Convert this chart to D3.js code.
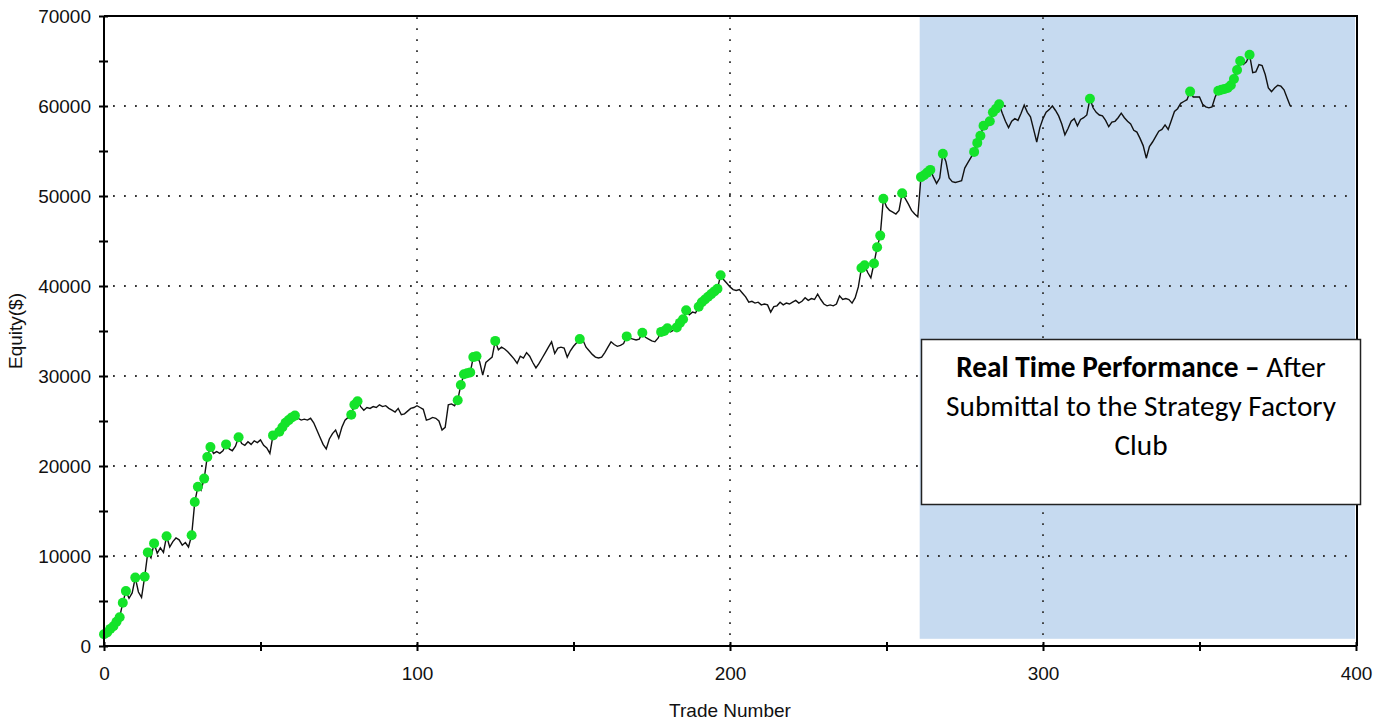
<!DOCTYPE html>
<meta charset="utf-8">
<style>
  body { margin: 0; background: #fff; }
  svg { display: block; }
</style>
<body>
<script src="https://cdn.jsdelivr.net/npm/d3@7"></script>
<script>

    // equity per trade, back-tested part (trades 0..260)
    var backtestEquity = [
        1300, 1500, 1900, 2200, 2700, 3200, 4800, 6100, 5300, 5900,
        7600, 6000, 5400, 7700, 10400, 9800, 11400, 10300, 10900, 10400,
        12200, 11000, 11600, 12000, 11800, 11200, 11500, 11000, 12300, 16000,
        17700, 17300, 18600, 21000, 22100, 21400, 21600, 21400, 21700, 22400,
        21900, 21700, 22200, 23200, 22500, 22300, 22700, 22400, 22800, 22600,
        22900, 22300, 22000, 21400, 23400, 23200, 23800, 24300, 24800, 25100,
        25400, 25600, 25300, 25100, 25200, 25100, 25300, 24800, 24000, 23200,
        22400, 21900, 23000, 23600, 24000, 23100, 24300, 25100, 25400, 25700,
        26800, 27200, 26600, 26200, 26500, 26400, 26600, 26500, 26800, 26600,
        26700, 26400, 26200, 26000, 26400, 25700, 25800, 26100, 26400, 26500,
        26700, 26500, 26300, 25100, 25200, 25400, 25300, 25000, 24000, 24300,
        26800, 26900, 26700, 27300, 29000, 30200, 30300, 30400, 32100, 32200,
        31600, 30100, 31500, 31800, 32100, 33900, 32900, 33200, 33000, 32700,
        32300, 31900, 31400, 32200, 32000, 32600, 32200, 31500, 30900, 31400,
        32000, 32600, 33200, 33800, 32500, 33100, 33200, 33100, 32100, 32800,
        33300, 33700, 34100, 34000, 33200, 32800, 32400, 32100, 32000, 32100,
        32600, 33200, 33800, 33500, 33300, 33400, 33600, 34400, 34200, 34100,
        34000, 34100, 34800, 34300, 34100, 33900, 33800, 34200, 34900, 35000,
        35300, 34900, 35100, 35400, 35900, 36300, 37300, 36800, 37100, 37000,
        37700, 38200, 38500, 38800, 39100, 39400, 39700, 41200, 40700, 40300,
        39900, 39600, 39500, 39600, 39200, 38800, 38200, 38300, 38100, 38200,
        37900, 38000, 37900, 37100, 37700, 37800, 38200, 37900, 38100, 38000,
        38200, 38400, 38100, 38300, 38700, 38400, 38600, 38500, 39100, 38500,
        38000, 37800, 37900, 37800, 38000, 38900, 38500, 38600, 38500, 38100,
        38700, 39900, 42000, 42300, 41500, 40900, 42500, 44300, 45600, 49700,
        48800, 48400, 48200, 48000, 48400, 50300, 49700, 49100, 48400, 48000,
        47700
    ];

    // equity per trade after submittal (trades 261..379)
    var realTimeEquity = [
        52100, 52300, 52600, 52900, 52100, 51400, 52000, 54700, 53800,
        52000, 51600, 51500, 51600, 51700, 53100, 53700, 54300, 54900, 55900,
        56700, 57800, 57500, 58300, 59300, 59700, 60200, 59200, 58300, 57600,
        58300, 58600, 58400, 59200, 60100, 59300, 58800, 57400, 56000, 57600,
        58600, 59300, 59600, 60000, 59500, 58900, 58000, 56800, 57500, 58300,
        58600, 57800, 58500, 58700, 59000, 60800, 59800, 59300, 59000, 58900,
        58400, 57700, 58200, 58300, 58700, 59200, 58700, 58300, 58000, 57300,
        57100, 56400, 55600, 54200, 55500, 56000, 56600, 57200, 57400, 57900,
        57400, 58400, 59400, 59700, 60300, 60500, 60700, 61600, 61000, 61000,
        61000, 60200, 59900, 59800, 59900, 61000, 61700, 61800, 61900, 62000,
        62300, 63000, 64000, 65000, 64600, 64900, 65700, 63700, 63800, 64600,
        64500, 63500, 62000, 61600, 62000, 62300, 62200, 61800, 60900, 60000
    ];

    var xTicks = [0, 50, 100, 150, 200, 250, 300, 350, 400];
    var yTicks = [0, 5000, 10000, 15000, 20000, 25000, 30000, 35000, 40000, 45000, 50000, 55000, 60000, 65000, 70000];
    var xGrid = [100, 200, 300];
    var yGrid = [10000, 20000, 30000, 40000, 50000, 60000];
    var realTimeSpan = [260.6, 399.7];   // shaded trades
    var noteBold = "Real Time Performance \u2013";
    var noteLines = ["After", "Submittal to the Strategy Factory", "Club"];

    var width = 1391,
        height = 723;

    var plotLeft = 104, plotRight = 1357, plotTop = 16, plotBottom = 646;

    var svg = d3.select("body").append("svg")
            .attr("width", width)
            .attr("height", height);

    var x = d3.scaleLinear().domain([0, 400]).range([plotLeft, plotRight - 1]);
    var y = d3.scaleLinear().domain([0, 70000]).range([plotBottom, plotTop]);

    var equity = backtestEquity.concat(realTimeEquity).map(function(v, i) {
        return {trade: i, value: v};
    });

    // new equity highs get a green dot
    var peak = -Infinity;
    var highs = equity.filter(function(d) {
        if (d.value > peak) { peak = d.value; return true; }
        return false;
    });

    // shaded real time area
    svg.append("rect")
        .attr("x", x(realTimeSpan[0]))
        .attr("y", plotTop)
        .attr("width", x(realTimeSpan[1]) - x(realTimeSpan[0]))
        .attr("height", y(800) - plotTop)
        .attr("fill", "#c6daf0");

    // dotted grid
    var grid = svg.append("g")
        .attr("stroke", "#333")
        .attr("stroke-width", 1.8)
        .attr("stroke-dasharray", "1.8,9.2");

    grid.selectAll(".gx").data(xGrid).enter().append("line")
        .attr("x1", function(d) { return x(d); })
        .attr("x2", function(d) { return x(d); })
        .attr("y1", plotBottom)
        .attr("y2", plotTop);

    grid.selectAll(".gy").data(yGrid).enter().append("line")
        .attr("x1", plotLeft + 9)
        .attr("x2", plotRight)
        .attr("y1", function(d) { return y(d); })
        .attr("y2", function(d) { return y(d); });

    // equity line
    var line = d3.line()
        .x(function(d) { return x(d.trade); })
        .y(function(d) { return y(d.value); });

    svg.append("path")
        .datum(equity)
        .attr("fill", "none")
        .attr("stroke", "#111")
        .attr("stroke-width", 1.4)
        .attr("d", line);

    svg.selectAll(".high").data(highs).enter().append("circle")
        .attr("cx", function(d) { return x(d.trade); })
        .attr("cy", function(d) { return y(d.value); })
        .attr("r", 5)
        .attr("fill", "#14e32a");

    // frame
    svg.append("path")
        .attr("d", "M" + plotLeft + "," + plotTop + "H" + plotRight + "V" + plotBottom)
        .attr("fill", "none")
        .attr("stroke", "#000")
        .attr("stroke-width", 2);

    // axes
    var xAxis = d3.axisBottom(x)
        .tickValues(xTicks)
        .tickSize(5)
        .tickPadding(16)
        .tickFormat(function(d) { return d % 100 === 0 ? d : ""; });

    var yAxis = d3.axisLeft(y)
        .tickValues(yTicks)
        .tickSize(5)
        .tickPadding(8)
        .tickFormat(function(d) { return d % 10000 === 0 ? d : ""; });

    var gx = svg.append("g")
        .attr("transform", "translate(0," + plotBottom + ")")
        .call(xAxis);
    gx.selectAll(".tick line").attr("y1", -4).attr("stroke-width", 2);

    var gy = svg.append("g")
        .attr("transform", "translate(" + plotLeft + ",0)")
        .call(yAxis);
    gy.selectAll(".tick line").attr("x1", 4).attr("stroke-width", 2);

    [gx, gy].forEach(function(g) {
        g.select(".domain").attr("stroke-width", 2).attr("stroke", "#000");
        g.selectAll("text")
            .attr("font-family", "Liberation Sans, Arial, sans-serif")
            .attr("font-size", 19)
            .attr("fill", "#111");
    });
    gx.select(".domain").attr("d", "M" + plotLeft + ",0H" + plotRight);
    gy.select(".domain").attr("d", "M0," + plotBottom + "V" + plotTop);

    svg.append("text")
        .attr("x", x(200))
        .attr("y", 717)
        .attr("text-anchor", "middle")
        .attr("font-family", "Liberation Sans, Arial, sans-serif")
        .attr("font-size", 19)
        .attr("fill", "#111")
        .text("Trade Number");

    svg.append("text")
        .attr("transform", "translate(22,331) rotate(-90)")
        .attr("text-anchor", "middle")
        .attr("font-family", "Liberation Sans, Arial, sans-serif")
        .attr("font-size", 19)
        .attr("fill", "#111")
        .text("Equity($)");

    // note box
    var box = {x: 921.5, y: 339.5, w: 439, h: 165};
    svg.append("rect")
        .attr("x", box.x).attr("y", box.y)
        .attr("width", box.w).attr("height", box.h)
        .attr("fill", "#fff")
        .attr("stroke", "#222")
        .attr("stroke-width", 1.5);

    var note = svg.append("g")
        .attr("font-family", "Carlito, Lato, sans-serif")
        .attr("fill", "#000")
        .attr("text-anchor", "middle");

    var cx = box.x + box.w / 2;
    var t1 = note.append("text").attr("x", cx).attr("y", 377);
    t1.append("tspan").attr("font-weight", "bold").text(noteBold);
    t1.append("tspan").text(" " + noteLines[0]);
    var t2 = note.append("text").attr("x", cx).attr("y", 416).text(noteLines[1]);
    var t3 = note.append("text").attr("x", cx).attr("y", 455).text(noteLines[2]);

    // fit the font so the long line is as wide as in the picture
    note.attr("font-size", 24);
    var w = t2.node().getComputedTextLength();
    note.attr("font-size", 24 * 390 / w);

</script>
